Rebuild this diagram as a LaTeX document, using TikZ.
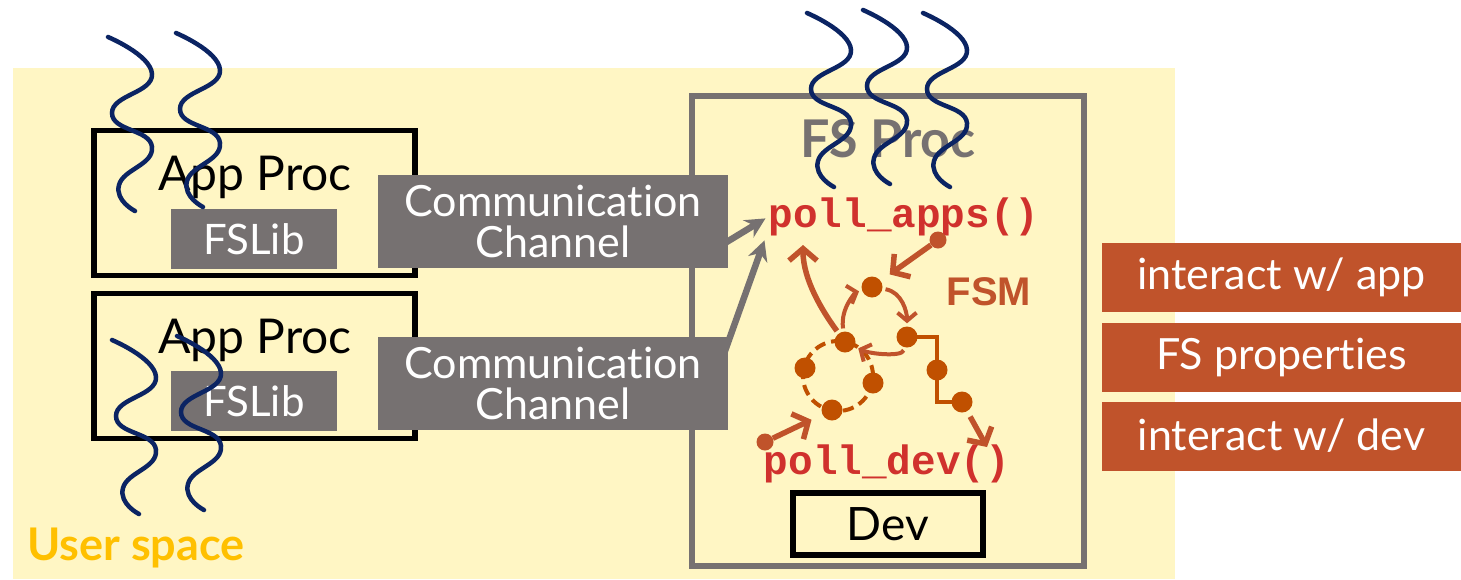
\documentclass[tikz,border=0pt]{standalone}
\usepackage{fontspec}
\setmainfont{Lato}[Ligatures=NoCommon]
\newfontfamily\codefont{Liberation Mono}
\newfontfamily\fsmfont{Liberation Sans}
\usepackage{tikz}
\usetikzlibrary{calc,arrows.meta}
\definecolor{userbg}{HTML}{FFF6C4}
\definecolor{userc}{HTML}{FFC000}
\definecolor{greyc}{HTML}{767171}
\definecolor{threadc}{HTML}{0B2463}
\definecolor{codec}{HTML}{D0312D}
\definecolor{fsmc}{HTML}{C0532B}
\definecolor{dotc}{HTML}{C05000}
\tikzset{
  proc/.style={draw=black,line width=5.5pt,minimum width=321pt,minimum height=145pt},
  libbox/.style={fill=greyc,text=white,minimum width=166pt,minimum height=60pt,inner sep=0pt,font=\fontsize{42}{46}\selectfont},
  chan/.style={fill=greyc,text=white,minimum width=350pt,minimum height=93pt,align=center,inner sep=0pt,font=\fontsize{43}{41}\selectfont},
  role/.style={fill=fsmc,text=white,minimum width=359pt,minimum height=69pt,inner sep=0pt,font=\fontsize{43}{46}\selectfont},
  code/.style={text=codec,inner sep=0pt,anchor=base,font=\codefont\bfseries\fontsize{41}{41}\selectfont},
  dot/.style={circle,fill=dotc,minimum size=21pt,inner sep=0pt},
  ring/.style={dotc,line width=4pt,dash pattern=on 11pt off 6pt},
  stepline/.style={dotc,line width=4pt},
  fsmar/.style={-{Straight Barb[length=12pt,width=28pt]},fsmc,line width=5.5pt},
  fsmsm/.style={-{Straight Barb[length=8pt,width=19pt]},fsmc,line width=4pt},
  garrow/.style={-{Stealth[length=20pt,width=20pt]},greyc,line width=6.5pt},
  thread/.style={threadc,line width=4.5pt,line cap=round}
}
\begin{document}
\begin{tikzpicture}[x=1pt,y=-1pt]
\useasboundingbox (0,0) rectangle (1461,579);
\fill[userbg] (13,68) rectangle (1175,579);
\node[proc] (ap1) at (254.5,203) {};
\node[proc] (ap2) at (254.5,366) {};
\node[anchor=base,inner sep=0pt,font=\fontsize{48}{50}\selectfont] (ap1t) at (255,190) {App Proc};
\node[anchor=base,inner sep=0pt,font=\fontsize{48}{50}\selectfont] (ap2t) at (255,353) {App Proc};
\node[libbox] (lib1) at (254,239) {FSLib};
\node[libbox] (lib2) at (254,401) {FSLib};
\node[draw=greyc,line width=5.5pt,minimum width=392pt,minimum height=470pt] (fsp) at (888,331) {};
\node[anchor=base,inner sep=0pt,text=greyc,font=\bfseries\fontsize{52}{56}\selectfont] (fspt) at (888,157) {FS Proc};
\node[chan] (cc1) at (553,221.5) {Communication\\Channel};
\node[chan] (cc2) at (553,383.5) {Communication\\Channel};
\node[code] (pa) at (904,227) {poll\_apps()};
\node[code] (pd) at (887,474) {poll\_dev()};
\node[draw=black,line width=5.5pt,minimum width=190pt,minimum height=62pt,inner sep=0pt,font=\fontsize{46}{48}\selectfont] (dev) at (888,524) {Dev};
\node[anchor=base,inner sep=0pt,text=fsmc,font=\fsmfont\bfseries\fontsize{40}{42}\selectfont] (fsm) at (989,305) {FSM};
\node[anchor=base west,inner sep=0pt,text=userc,font=\bfseries\fontsize{45}{48}\selectfont] (us) at (27,560) {User space};
\node[role] (r1) at (1281.5,277) {interact w/ app};
\node[role] (r2) at (1281.5,357) {FS properties};
\node[role] (r3) at (1281.5,436) {interact w/ dev};
\draw[garrow] ($(cc1.south east)+(-15,-18)$) -- ($(pa.west)+(-3,2)$);
\draw[garrow] ($(cc2.north east)+(-11,36)$) -- ($(pa.west)+(-4,24)$);
\draw[ring] (838,376) circle[radius=35pt];
\node[dot] (d1) at (872,287) {};
\node[dot] (d3) at (845,342) {};
\node[dot] (d4) at (805,368) {};
\node[dot] (d5) at (873,383) {};
\node[dot] (d6) at (832,410) {};
\coordinate (d2) at (907,337);
\coordinate (d7) at (937,370);
\coordinate (d8) at (962,402);
\draw[stepline] (d2) -| (d7) |- (d8);
\node[dot] (d2) at (907,337) {};
\node[dot] (d7) at (937,370) {};
\node[dot] (d8) at (962,402) {};
\node[dot,fill=fsmc,minimum size=17pt] (s1) at (938,240) {};
\node[dot,fill=fsmc,minimum size=17pt] (s2) at (765,442) {};
\coordinate (paend) at (803,245);
\coordinate (dout) at (987,447);
\draw[fsmar,shorten >=11pt] (s1) -- (d1);
\draw[fsmar,shorten >=12pt] (s2) -- (d6);
\draw[fsmar,shorten <=6pt] (d8) -- (dout);
\draw[fsmar,shorten <=3pt] (d3) .. controls +(-22,-30) and +(0,35) .. (paend);
\draw[fsmsm,shorten <=3pt,shorten >=3pt] (d3) .. controls +(-5,-35) and +(-15,5) .. (d1);
\draw[fsmsm,shorten <=3pt,shorten >=3pt] (d1) .. controls +(30,5) and +(0,-25) .. (d2);
\draw[fsmsm,shorten <=3pt,shorten >=4pt] (d2) .. controls +(-5,20) and +(25,12) .. (d3);
\foreach \tx/\ty in {108/37,176/33,112/340,177/336,807/13,863/10,923/13}
  \draw[thread,shift={(\tx,\ty)}] plot[smooth,tension=0.9] coordinates {(0,0) (44,37) (4,76) (44,110) (11,148) (27,174)};
\end{tikzpicture}
\end{document}
